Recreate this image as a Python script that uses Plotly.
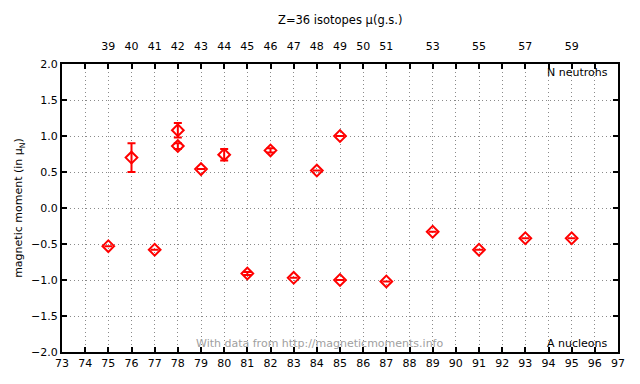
import plotly.graph_objects as go

# Data: mass number A, magnetic moment (mu_N), uncertainty
mass_A = [75, 76, 77, 78, 78, 79, 80, 81, 82, 83, 84, 85, 85, 87, 89, 91, 93, 95]
moment = [-0.53, 0.70, -0.58, 1.08, 0.86, 0.54, 0.74, -0.91, 0.80, -0.97, 0.52, 1.00, -1.00, -1.02, -0.33, -0.58, -0.42, -0.42]
uncert = [0.0, 0.20, 0.0, 0.10, 0.04, 0.0, 0.08, 0.02, 0.03, 0.0, 0.0, 0.0, 0.0, 0.0, 0.0, 0.0, 0.0, 0.0]

top_tick_A = [75, 76, 77, 78, 79, 80, 81, 82, 83, 84, 85, 86, 87, 89, 91, 93, 95]
top_tick_N = ["39", "40", "41", "42", "43", "44", "45", "46", "47", "48", "49", "50", "51", "53", "55", "57", "59"]

FONT = "DejaVu Sans"

fig = go.Figure()
fig.add_trace(go.Scatter(
    x=mass_A, y=moment, mode="markers",
    marker=dict(symbol="diamond-open", size=9, color="red", line=dict(width=2, color="red")),
    error_y=dict(type="data", array=uncert, visible=True, color="red", thickness=2, width=4),
    showlegend=False,
))
# invisible trace for the top axis
fig.add_trace(go.Scatter(x=[73, 97], y=[0, 0], xaxis="x2", mode="markers",
                         marker=dict(opacity=0), showlegend=False, hoverinfo="skip"))

axis_common = dict(showline=True, linecolor="black", linewidth=2, ticks="inside",
                   ticklen=5, tickcolor="black", tickwidth=1.5, automargin=False,
                   tickfont=dict(family=FONT, size=11, color="black"))

GRID = dict(showgrid=True, gridcolor="#8a8a8a", griddash="1px,3px", gridwidth=1)

# page body adds an 8px offset; margins compensate so the plot box sits at 62..618 x 64..352
fig.update_layout(
    width=640, height=384,
    margin=dict(l=54, r=30, t=56, b=40),
    plot_bgcolor="white", paper_bgcolor="white",
    font=dict(family=FONT, size=11, color="black"),
    xaxis=dict(range=[73, 97], dtick=1, tick0=73, mirror="ticks",
               zeroline=False, **GRID, **axis_common),
    xaxis2=dict(range=[73, 97], overlaying="x", side="top", tickmode="array",
                tickvals=top_tick_A, ticktext=top_tick_N, showgrid=False,
                showline=False, ticks="outside", ticklen=9, tickcolor="rgba(0,0,0,0)",
                automargin=False,
                tickfont=dict(family=FONT, size=11, color="black"), zeroline=False),
    yaxis=dict(range=[-2.0, 2.0], dtick=0.5, tickformat=".1f", mirror="ticks",
               zeroline=False, **GRID,
               title=dict(text="magnetic moment (in μ<sub>N</sub>)", font=dict(family=FONT, size=11), standoff=6),
               **axis_common),
    annotations=[
        dict(text="Z=36 isotopes μ(g.s.)", xref="paper", yref="paper", x=0.5, y=1.0,
             yshift=35, showarrow=False, font=dict(family=FONT, size=11.5), xanchor="center", yanchor="bottom"),
        dict(text="N neutrohs", xref="paper", yref="paper", x=0.985, y=1.0, showarrow=False,
             xanchor="right", yanchor="top", font=dict(family=FONT, size=11)),
        dict(text="A nucleons", xref="paper", yref="paper", x=0.985, y=0.0, showarrow=False,
             xanchor="right", yanchor="bottom", font=dict(family=FONT, size=11)),
        dict(text="With data from http://magneticmoments.info", xref="paper", yref="paper",
             x=0.464, y=0.0, showarrow=False, xanchor="center", yanchor="bottom",
             font=dict(family=FONT, size=11, color="#a0a0a0")),
    ],
)

fig.write_html("out.html")
